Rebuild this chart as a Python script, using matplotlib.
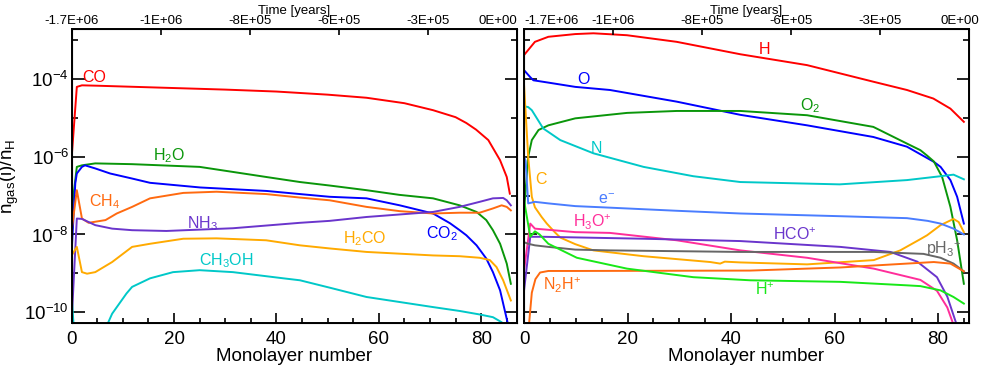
import numpy as np
import matplotlib
matplotlib.use("Agg")
import matplotlib.pyplot as plt
import matplotlib.transforms as mtransforms
from matplotlib.ticker import FixedLocator, FixedFormatter, NullFormatter

plt.rcParams['font.family'] = ['Liberation Sans', 'DejaVu Sans']
plt.rcParams['mathtext.fontset'] = 'custom'
plt.rcParams['mathtext.rm'] = 'Liberation Sans'
plt.rcParams['mathtext.it'] = 'Liberation Sans:italic'
plt.rcParams['mathtext.bf'] = 'Liberation Sans:bold'
plt.rcParams['mathtext.sf'] = 'Liberation Sans'

# ---------------- data (log10 abundances) ----------------
# Left panel
co_x = [0, 1, 2, 5, 10, 20, 30, 40, 50, 57.6, 65, 70.6, 75, 77.1, 79, 81.4, 83.7, 85, 85.6]
co_y = [-6.0, -4.2, -4.16, -4.17, -4.19, -4.23, -4.27, -4.32, -4.40, -4.48, -4.62, -4.80, -4.98, -5.13, -5.3, -5.57, -6.09, -6.52, -6.95]

h2o_x = [0, 1, 2, 4.6, 11.8, 25, 38, 44.6, 50.4, 57.6, 64, 70.6, 75.8, 79.1, 81, 82.3, 83.7, 85, 85.8]
h2o_y = [-7.38, -6.26, -6.22, -6.17, -6.19, -6.26, -6.52, -6.65, -6.74, -6.86, -6.98, -7.07, -7.25, -7.42, -7.63, -7.89, -8.24, -8.75, -9.27]

co2_x = [0, 0.7, 1, 2, 2.6, 4.6, 7.5, 11.8, 15.3, 25.1, 38.1, 44.6, 50.4, 57.6, 64.1, 70.6, 73.9, 75.8, 77.1, 79.1, 81, 82.3, 83.7, 84.6, 85.4]
co2_y = [-8.41, -6.68, -6.43, -6.26, -6.22, -6.30, -6.43, -6.56, -6.67, -6.79, -6.88, -6.96, -7.03, -7.07, -7.25, -7.46, -7.71, -7.89, -8.02, -8.28, -8.62, -8.97, -9.44, -9.95, -10.4]

ch4_x = [0, 1, 2, 3.3, 6.6, 8.8, 11.8, 15.3, 21.8, 28.3, 38, 44.6, 50.4, 57.6, 64.1, 70.6, 75.8, 79.7, 82.3, 84, 85, 85.8]
ch4_y = [-7.89, -6.86, -7.59, -7.70, -7.63, -7.46, -7.29, -7.07, -6.93, -6.90, -6.96, -7.05, -7.12, -7.29, -7.40, -7.46, -7.44, -7.44, -7.33, -7.25, -7.29, -7.38]

nh3_x = [0, 1, 2, 4.6, 7.9, 11.8, 18.5, 31.5, 44.6, 50.4, 57.6, 70.6, 75.8, 79.7, 82.3, 84.3, 85, 85.8]
nh3_y = [-10.2, -7.59, -7.6, -7.76, -7.85, -7.89, -7.91, -7.84, -7.70, -7.65, -7.55, -7.42, -7.29, -7.16, -7.07, -7.06, -7.12, -7.25]

h2co_x = [0, 1, 2, 3, 4.6, 7.9, 11.8, 15.3, 21.8, 28.3, 38, 44.6, 50.4, 57.6, 70.6, 75.8, 79.7, 81.7, 83, 84.3, 85.8]
h2co_y = [-8.54, -8.32, -8.97, -9.01, -8.97, -8.71, -8.32, -8.24, -8.11, -8.10, -8.15, -8.28, -8.36, -8.45, -8.54, -8.56, -8.60, -8.66, -8.84, -9.18, -9.70]

ch3oh_x = [0, 0.5, 6.0, 7.9, 10.7, 11.8, 15.3, 19.8, 25, 31.5, 41.4, 44.6, 50.4, 57.6, 70.6, 75.8, 79.7, 82.3, 84, 85]
ch3oh_y = [-9.61, -10.6, -10.6, -10.04, -9.52, -9.35, -9.13, -8.97, -8.92, -8.97, -9.13, -9.18, -9.37, -9.61, -9.87, -9.97, -10.06, -10.13, -10.26, -10.4]

# Right panel
h_x = [0, 2.1, 4.7, 9.9, 13.4, 19.9, 29.5, 41.8, 54.7, 67.6, 74, 79.1, 82.4, 85]
h_y = [-3.38, -3.04, -2.91, -2.84, -2.82, -2.87, -3.04, -3.36, -3.64, -4.07, -4.28, -4.50, -4.76, -5.10]

o_x = [0, 1.2, 1.8, 4.7, 9.9, 16.6, 29.5, 41.8, 54.7, 67.5, 74, 79.2, 80.5, 82.4, 83.7, 85]
o_y = [-3.77, -3.95, -4.03, -4.09, -4.20, -4.28, -4.58, -4.92, -5.19, -5.49, -5.74, -6.13, -6.26, -6.60, -7.03, -7.72]

o2_x = [0, 0.8, 1.5, 2.8, 4.7, 9.9, 19.9, 29.5, 41.8, 54.7, 67.5, 74, 76.6, 77.9, 79.2, 80.8, 82.4, 83.7, 85]
o2_y = [-7.38, -6.0, -5.57, -5.31, -5.19, -5.01, -4.87, -4.82, -4.82, -4.93, -5.23, -5.66, -5.83, -5.97, -6.12, -6.52, -7.29, -8.15, -9.27]

n_x = [0, 0.8, 1.5, 3.7, 7, 13.4, 23.1, 32.7, 41.8, 61, 74, 80.5, 83, 85]
n_y = [-4.70, -4.72, -4.80, -5.27, -5.57, -5.91, -6.26, -6.50, -6.65, -6.71, -6.60, -6.50, -6.46, -6.58]

c_x = [0, 0.8, 1.5, 2.1, 3.4, 4.4, 6, 7, 9.9, 13.4, 23.1, 36, 37.9, 38.8, 41.8, 54.7, 67.6, 72.7, 76.6, 77.9, 80.5, 83, 84, 85]
c_y = [-4.15, -6.0, -7.03, -7.3, -7.55, -7.72, -7.95, -8.08, -8.25, -8.41, -8.56, -8.71, -8.75, -8.70, -8.72, -8.77, -8.66, -8.41, -8.12, -8.02, -7.76, -7.60, -7.68, -7.94]

em_x = [0, 0.3, 0.8, 2.1, 4.7, 9.9, 16.6, 29.5, 41.8, 61.1, 74, 78, 80.5, 83, 85]
em_y = [-6.0, -6.1, -7.2, -7.16, -7.2, -7.27, -7.31, -7.39, -7.46, -7.53, -7.58, -7.65, -7.72, -7.85, -8.0]

h3o_x = [0, 1.2, 2.1, 9.9, 16.6, 29.5, 41.8, 54.7, 67.6, 76.6, 79.8, 81.8, 83.2]
h3o_y = [-8.92, -7.72, -7.85, -7.94, -7.96, -8.15, -8.41, -8.60, -8.88, -9.17, -9.45, -9.88, -10.4]

hco_x = [0, 1.2, 3.7, 23.1, 41.8, 61.1, 70.8, 76, 79.8, 81.8, 83.8]
hco_y = [-9.44, -8.06, -8.06, -8.11, -8.17, -8.32, -8.45, -8.70, -9.10, -9.60, -10.4]

ph3_x = [0, 0.8, 2.1, 4.7, 9.9, 16.6, 41.8, 67.6, 77.2, 80.5, 83, 85]
ph3_y = [-8.2, -8.24, -8.28, -8.32, -8.39, -8.41, -8.45, -8.45, -8.50, -8.60, -8.75, -8.95]

n2h_x = [0.9, 1.5, 2.2, 3.1, 4.7, 10.2, 43.7, 61.1, 74, 79.2, 82.4, 85]
n2h_y = [-10.4, -9.5, -9.15, -8.98, -8.94, -8.94, -8.93, -8.85, -8.75, -8.71, -8.75, -8.95]

hp_x = [0, 1.2, 2.1, 3, 4.7, 10.2, 19.9, 32.7, 43.7, 61.1, 74, 76.6, 80.5, 83, 85]
hp_y = [-7.12, -8.06, -7.92, -8.0, -8.24, -8.6, -8.88, -9.10, -9.18, -9.22, -9.31, -9.33, -9.44, -9.61, -9.78]

# tick labels
ytick_vals = [1e-10, 1e-8, 1e-6, 1e-4]
ytick_labels = [r'10$^{-10}$', r'10$^{-8}$', r'10$^{-6}$', r'10$^{-4}$']
yminor_vals = [1e-9, 1e-7, 1e-5, 1e-3]
xtick_vals = [0, 20, 40, 60, 80]
time_labels = ['-1.7E+06', '-1E+06', '-8E+05', '-6E+05', '-3E+05', '0E+00']

# ---------------- colours ----------------
RED = '#FF0000'
GREEN = '#0A960A'
BLUE = '#0000FF'
ORANGE = '#FF6A10'
PURPLE = '#6A35CC'
YELLOW = '#FFAA00'
CYAN = '#00C8C8'
LBLUE = '#4A7DFF'
MAGENTA = '#FF2E9A'
GRAY = '#666666'
LGREEN = '#18E818'

left_series = [
    (co_x, co_y, RED, 'CO', 2.0, -4.07),
    (h2o_x, h2o_y, GREEN, r'H$_2$O', 15.9, -6.09),
    (co2_x, co2_y, BLUE, r'CO$_2$', 69.3, -8.11),
    (ch4_x, ch4_y, ORANGE, r'CH$_4$', 3.4, -7.27),
    (nh3_x, nh3_y, PURPLE, r'NH$_3$', 22.6, -7.84),
    (h2co_x, h2co_y, YELLOW, r'H$_2$CO', 53.0, -8.22),
    (ch3oh_x, ch3oh_y, CYAN, r'CH$_3$OH', 24.9, -8.79),
]
right_series = [
    (h_x, h_y, RED, 'H', 45.3, -3.36),
    (o_x, o_y, BLUE, 'O', 10.2, -4.13),
    (o2_x, o2_y, GREEN, r'O$_2$', 53.4, -4.80),
    (n_x, n_y, CYAN, 'N', 12.8, -5.90),
    (c_x, c_y, YELLOW, 'C', 2.1, -6.71),
    (em_x, em_y, LBLUE, r'e$^{-}$', 14.2, -7.22),
    (h3o_x, h3o_y, MAGENTA, r'H$_3$O$^{+}$', 9.4, -7.81),
    (hco_x, hco_y, PURPLE, r'HCO$^{+}$', 48.2, -8.13),
    (ph3_x, ph3_y, GRAY, r'pH$_3$$^{+}$', 77.6, -8.51),
    (n2h_x, n2h_y, ORANGE, r'N$_2$H$^{+}$', 3.7, -9.44),
    (hp_x, hp_y, LGREEN, r'H$^{+}$', 44.7, -9.57),
]

fig = plt.figure(figsize=(9.81, 3.72), dpi=100)
axL = fig.add_axes([0.0731, 0.1317, 0.4539, 0.7903])
axR = fig.add_axes([0.5342, 0.1317, 0.4536, 0.7903])

YLIM = (10**-10.28, 10**-2.71)
FS = 13.5

def style(ax, xmax, show_ylabels):
    ax.set_yscale('log')
    ax.set_ylim(*YLIM)
    ax.set_xlim(0, xmax)
    ax.yaxis.set_major_locator(FixedLocator(ytick_vals))
    ax.yaxis.set_minor_locator(FixedLocator(yminor_vals))
    ax.yaxis.set_minor_formatter(NullFormatter())
    if show_ylabels:
        ax.yaxis.set_major_formatter(FixedFormatter(ytick_labels))
    else:
        ax.yaxis.set_major_formatter(NullFormatter())
    ax.xaxis.set_major_locator(FixedLocator(xtick_vals))
    ax.xaxis.set_minor_locator(FixedLocator([v for v in np.arange(0, xmax, 5) if v % 20 != 0]))
    ax.tick_params(axis='both', which='both', direction='in', top=False, right=True,
                   width=1.2, labelsize=FS, colors='black')
    ax.tick_params(axis='y', which='major', length=9, pad=2)
    ax.tick_params(axis='y', which='minor', length=4.5)
    ax.tick_params(axis='x', which='major', length=7, pad=6)
    ax.tick_params(axis='x', which='minor', length=3.5)
    for s in ax.spines.values():
        s.set_linewidth(1.4)
    ax.set_xlabel('Monolayer number', fontsize=FS, labelpad=0)

    top = ax.twiny()
    top.set_xlim(0, xmax)
    top.xaxis.set_major_locator(FixedLocator(list(np.linspace(0, xmax, 6))))
    top.xaxis.set_major_formatter(FixedFormatter(time_labels))
    top.xaxis.set_minor_locator(FixedLocator([]))
    top.tick_params(axis='x', which='major', direction='in', length=4, width=1.2,
                    pad=1.5, labelsize=9.5)
    top.set_xlabel('Time [years]', fontsize=9.5, labelpad=1)
    return top

def draw(ax, series):
    for xs, ys, col, lab, lx, ly in series:
        ax.plot(xs, 10 ** np.array(ys), color=col, lw=1.4, solid_joinstyle='round')
        ax.text(lx, 10 ** ly, lab, color=col, fontsize=11.5, ha='left', va='baseline')

draw(axL, left_series)
draw(axR, right_series)
topL = style(axL, 87.0, True)
topR = style(axR, 86.0, False)
axL.set_ylabel(r'n$_{\mathrm{gas}}$(i)/n$_{\mathrm{H}}$', fontsize=FS, labelpad=2)

fig.canvas.draw()
labsL = topL.get_xticklabels()
labsL[-1].set_ha('right')
labsR = topR.get_xticklabels()
labsR[0].set_ha('left')
labsR[-1].set_ha('right')
labsR[-1].set_transform(labsR[-1].get_transform() +
                        mtransforms.ScaledTranslation(0.10, 0, fig.dpi_scale_trans))

fig.savefig('out.png', dpi=100)
